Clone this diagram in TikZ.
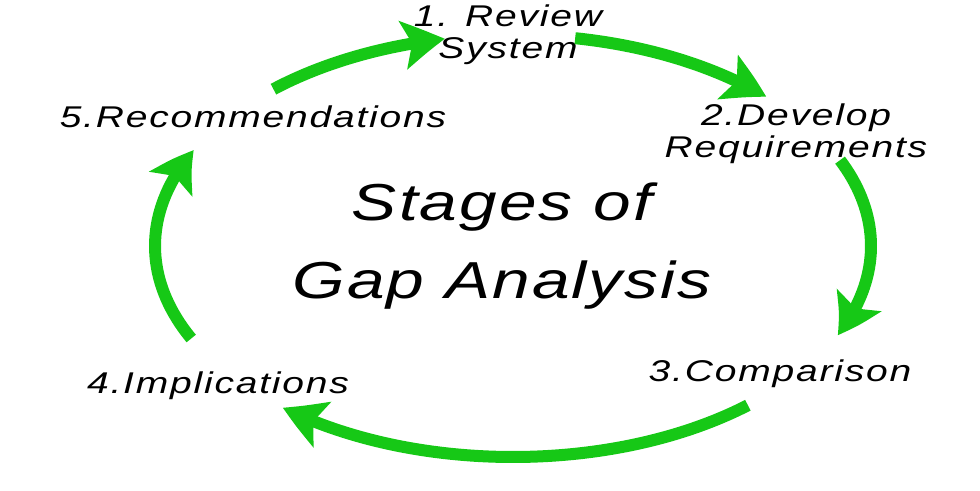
\documentclass[tikz,border=0pt]{standalone}
\usepackage{fontspec}
\setmainfont{Liberation Sans}
\newfontfamily\stagefont{Liberation Sans}[FakeStretch=1.3,LetterSpace=6]
\newfontfamily\titlefont{Liberation Sans}[FakeStretch=1.3,LetterSpace=4]
\usetikzlibrary{arrows.meta,bending,calc}
\definecolor{cyclegreen}{RGB}{22,200,22}
\tikzset{
  stage/.style={ % one step of the cycle
    align=center, inner sep=0pt, text=black,
    font=\stagefont\itshape\fontsize{30}{32}\selectfont
  },
  heading/.style={ % text in the middle of the ring
    align=center, inner sep=0pt, text=black,
    font=\titlefont\itshape\fontsize{52}{78}\selectfont
  },
  flow/.style={ % green arrow on the ring
    cyclegreen, line width=12pt,
    -{Stealth[length=42pt,width=48pt,inset=9pt,bend]}
  }
}

\begin{document}
\begin{tikzpicture}[x=1pt,y=1pt]
  \useasboundingbox (0,0) rectangle (980,490);
  \coordinate (c) at (513,244);

  \node[stage] (review) at (508,455) {1. Review\\System};
  \node[stage] (develop) at (796,356) {2.Develop\\Requirements};
  \node[stage] (compare) at (780,116) {3.Comparison};
  \node[stage] (implic) at (218,104) {4.Implications};
  \node[stage] (recomm) at (253,373) {5.Recommendations};
  \node[heading] (title) at (502,244) {Stages of\\Gap Analysis};

  % start of each arrow on the ring
  \coordinate (a1) at ($(c)+(132:358 and 211)$);
  \coordinate (a2) at ($(c)+(80:358 and 211)$);
  \coordinate (a3) at ($(c)+(24:358 and 211)$);
  \coordinate (a4) at ($(c)+(-49:358 and 211)$);
  \coordinate (a5) at ($(c)+(206:358 and 211)$);

  \draw[flow] (a1) arc[start angle=132, end angle=101, x radius=358, y radius=211];
  \draw[flow] (a2) arc[start angle=80, end angle=45, x radius=358, y radius=211];
  \draw[flow] (a3) arc[start angle=24, end angle=-25, x radius=358, y radius=211];
  \draw[flow] (a4) arc[start angle=-49, end angle=-130, x radius=358, y radius=211];
  \draw[flow] (a5) arc[start angle=206, end angle=153, x radius=358, y radius=211];
\end{tikzpicture}
\end{document}
